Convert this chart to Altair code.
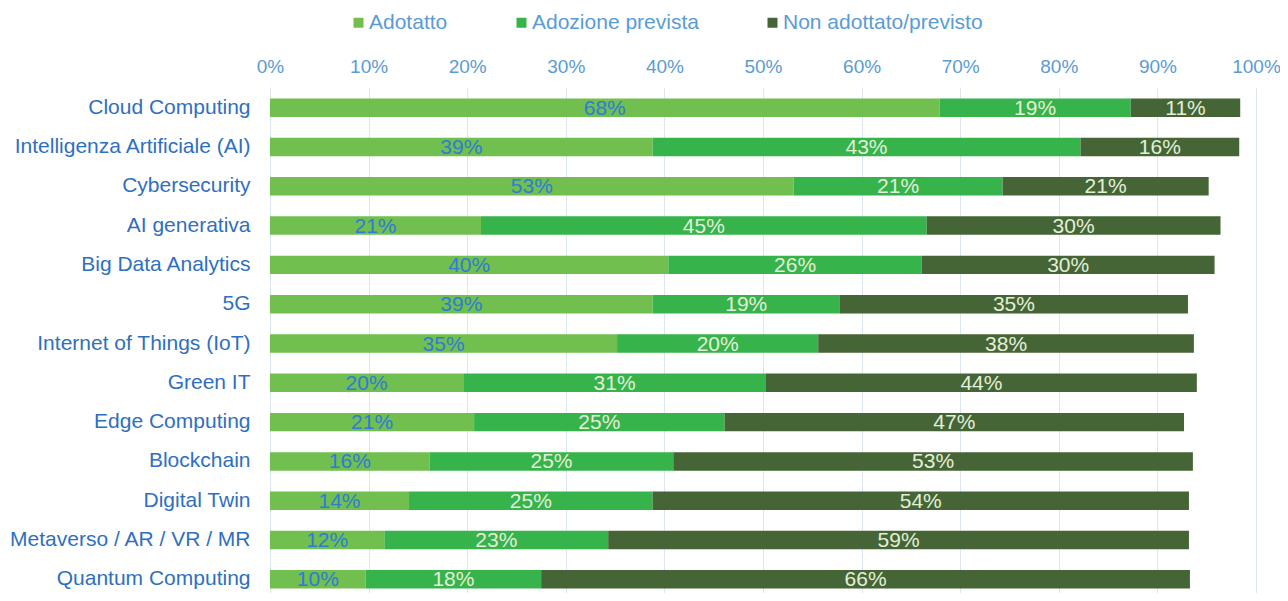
import altair as alt
import pandas as pd

categories = [
    "Cloud Computing",
    "Intelligenza Artificiale (AI)",
    "Cybersecurity",
    "AI generativa",
    "Big Data Analytics",
    "5G",
    "Internet of Things (IoT)",
    "Green IT",
    "Edge Computing",
    "Blockchain",
    "Digital Twin",
    "Metaverso / AR / VR / MR",
    "Quantum Computing",
]
series = ["Adotatto", "Adozione prevista", "Non adottato/previsto"]
adottato = [67.9, 38.8, 53.1, 21.4, 40.4, 38.8, 35.2, 19.6, 20.7, 16.2, 14.1, 11.6, 9.7]
prevista = [19.4, 43.4, 21.2, 45.2, 25.7, 19.0, 20.4, 30.7, 25.4, 24.7, 24.7, 22.7, 17.8]
non_adottato = [11.1, 16.1, 20.9, 29.8, 29.7, 35.3, 38.1, 43.7, 46.6, 52.7, 54.4, 58.9, 65.8]
colors = ["#70BF4F", "#36B34A", "#466536"]
tick_values = [0, 10, 20, 30, 40, 50, 60, 70, 80, 90, 100]

rows = []
for i, c in enumerate(categories):
    start = 0.0
    for k, (s, vals) in enumerate(zip(series, [adottato, prevista, non_adottato])):
        v = vals[i]
        rows.append(dict(cat=c, series=s, k=k, value=v, start=start, end=start + v))
        start += v
df = pd.DataFrame(rows)

FONT = "Liberation Sans"

y_enc = alt.Y(
    "cat:N",
    sort=categories,
    title=None,
    scale=alt.Scale(paddingInner=0.53, paddingOuter=0.265, range=[0, 511]),
    axis=alt.Axis(
        labelFontSize=21,
        labelFont=FONT,
        labelColor="#2F6FBF",
        labelPadding=20,
        ticks=False,
        tickSize=0,
        domain=False,
        grid=False,
        labelLimit=400,
    ),
)

x_enc = alt.X(
    "start:Q",
    title=None,
    scale=alt.Scale(domain=[0, 100], nice=False),
    axis=alt.Axis(
        orient="top",
        values=tick_values,
        labelExpr="datum.value + '%'",
        labelFlush=False,
        labelOverlap=False,
        labelFontSize=19,
        labelFont=FONT,
        labelColor="#5B9BD5",
        labelPadding=12,
        ticks=False,
        tickSize=0,
        domain=False,
        grid=True,
        gridColor="#DCE6F2",
        gridWidth=1,
    ),
)

bars = alt.Chart(df).mark_bar().encode(
    y=y_enc,
    x=x_enc,
    x2="end:Q",
    color=alt.Color(
        "series:N",
        sort=series,
        scale=alt.Scale(domain=series, range=colors),
        legend=alt.Legend(
            title=None,
            orient="none",
            legendX=78,
            legendY=-76,
            direction="horizontal",
            symbolType="square",
            symbolSize=100,
            symbolStrokeWidth=0,
            labelFontSize=21,
            labelFont=FONT,
            labelColor="#5B9BD5",
            labelLimit=400,
            columnPadding=63,
            labelOffset=0,
            padding=0,
        ),
    ),
    order=alt.Order("k:Q"),
)

base_text = alt.Chart(df).transform_calculate(
    mid="(datum.start + datum.end) / 2",
    label="format(datum.value, '.0f') + '%'",
)

lab_light = base_text.transform_filter(alt.datum.series == "Adotatto").mark_text(
    fontSize=21, font=FONT, color="#2F7BD8", baseline="middle", dy=1
).encode(y=alt.Y("cat:N", sort=categories), x=alt.X("mid:Q"), text="label:N")

lab_other = base_text.transform_filter(alt.datum.series != "Adotatto").mark_text(
    fontSize=21, font=FONT, color="#E2EFD9", baseline="middle", dy=1
).encode(y=alt.Y("cat:N", sort=categories), x=alt.X("mid:Q"), text="label:N")

chart = (
    alt.layer(bars, lab_light, lab_other)
    .properties(
        width=986,
        height=505,
        autosize=alt.AutoSizeParams(type="none"),
        padding={"left": 262, "top": 80, "right": 24, "bottom": 0},
        background="white",
    )
    .configure_view(stroke=None)
)

chart.save("out.html", embed_options={"renderer": "svg", "actions": False})
